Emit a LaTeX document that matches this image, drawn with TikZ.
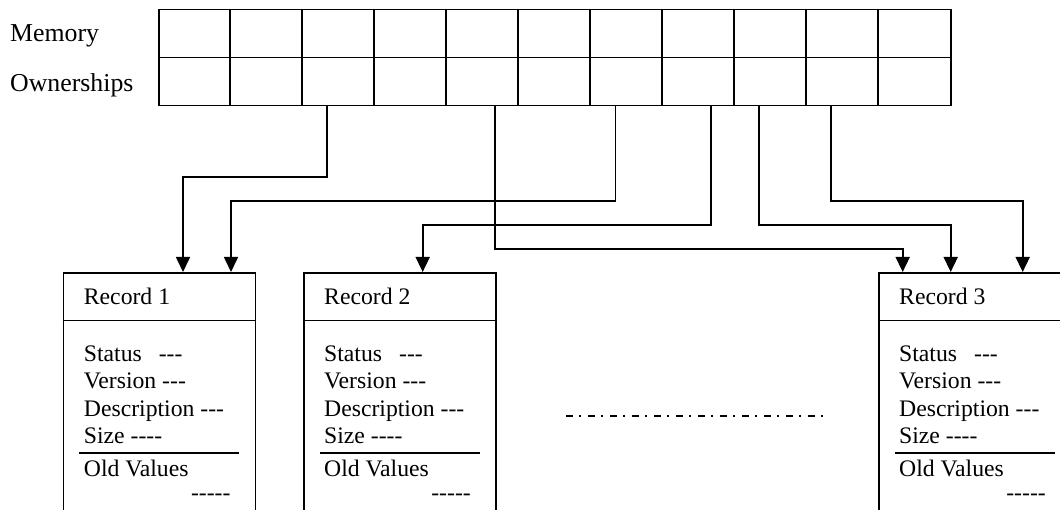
\documentclass[tikz,border=0pt]{standalone}
\usepackage{fontspec}
\setmainfont{Liberation Serif}
\usetikzlibrary{arrows.meta,calc}

% a hyphen that never joins its neighbours into a dash ligature
\newcommand\hy{-\kern0pt}
\newcommand\recfont{\fontsize{23.7}{27}\selectfont}
\newcommand\labfont{\fontsize{25.8}{30}\selectfont}

\tikzset{
  frame/.style={draw, line width=1.6pt, inner sep=0pt},
  conn/.style={line width=1.6pt, -{Triangle[length=15pt,width=14pt]}},
  rtext/.style={anchor=base west, inner sep=0pt, font=\recfont},
  ltext/.style={anchor=base west, inner sep=0pt, font=\labfont},
  dashdot/.style={line width=2pt, dash pattern=on 7pt off 6pt on 2pt off 7pt},
}

% one record: #1 name, #2 left edge, #3 box width, #4 title
\newcommand\recordbox[4]{%
  \node[frame, minimum width=#3, minimum height=250, anchor=north west] (#1) at (#2,272) {};
  \draw[line width=1.6pt] ($(#1.north west)+(0,48.7)$) coordinate (#1h) -- ($(#1.north east)+(0,48.7)$);
  \node[rtext] (#1t) at ($(#1.north west)+(21,33)$) {#4};
  \node[rtext] (#1a) at ($(#1.north west)+(21,89.7)$) {Status\hspace{17pt}\hy\hy\hy};
  \node[rtext] (#1b) at ($(#1.north west)+(21,116.6)$) {Version \hy\hy\hy};
  \node[rtext] (#1c) at ($(#1.north west)+(21,144)$) {Description \hy\hy\hy};
  \node[rtext] (#1d) at ($(#1.north west)+(21,171.3)$) {Size \hy\hy\hy\hy};
  \draw[line width=1.6pt] ($(#1.north west)+(16.5,181)$) coordinate (#1s) -- ++(160,0);
  \node[rtext] (#1e) at ($(#1.north west)+(21,204)$) {Old Values};
  \node[rtext, anchor=base east] (#1f) at ($(#1.north west)+(168,228)$) {\hy\hy\hy\hy\hy};
}

\begin{document}
\begin{tikzpicture}[x=1pt, y=-1pt]
\useasboundingbox (0,0) rectangle (1060,510);
\clip (0,0) rectangle (1060,510);

% memory / ownership table
\node[ltext] (memlab) at (10,41.7) {Memory};
\node[ltext] (ownlab) at (10,91.7) {Ownerships};
\node[frame, minimum width=792, minimum height=96, anchor=north west] (mem) at (158,8.7) {};
\draw[line width=1.6pt] (mem.west) -- (mem.east);
\foreach \k in {1,...,10}
  \draw[line width=1.6pt] ($(mem.north west)+(72*\k,0)$) -- ($(mem.south west)+(72*\k,0)$);

% records (the last one runs on past the right border)
\recordbox{rec1}{62.7}{192}{Record 1}
\recordbox{rec2}{303}{192}{Record 2}
\recordbox{rec3}{878}{260}{Record 3}

% elided records
\coordinate (dd1) at (566,416);
\coordinate (dd2) at (823,416);
\draw[dashdot] (dd1) -- (dd2);

% ownership links
\coordinate (o1) at ($(mem.south west)+(169,0)$);
\coordinate (o4) at ($(mem.south west)+(336.7,0)$);
\coordinate (o2) at ($(mem.south west)+(457.3,0)$);
\coordinate (o3) at ($(mem.south west)+(553,0)$);
\coordinate (o5) at ($(mem.south west)+(601,0)$);
\coordinate (o6) at ($(mem.south west)+(673,0)$);

\coordinate (t1) at ($(rec1.north west)+(120.3,0)$);
\coordinate (t2) at ($(rec1.north west)+(168.3,0)$);
\coordinate (t3) at ($(rec2.north west)+(119.7,0)$);
\coordinate (t4) at ($(rec3.north west)+(24.7,0)$);
\coordinate (t5) at ($(rec3.north west)+(72.7,0)$);
\coordinate (t6) at ($(rec3.north west)+(144.7,0)$);

\coordinate (lv1) at (0,177);
\coordinate (lv2) at (0,201);
\coordinate (lv3) at (0,225);
\coordinate (lv4) at (0,249);

\draw[conn] (o1) -- (o1 |- lv1) -| (t1);
\draw[conn] (o2) -- (o2 |- lv2) -| (t2);
\draw[conn] (o3) -- (o3 |- lv3) -| (t3);
\draw[conn] (o4) -- (o4 |- lv4) -| (t4);
\draw[conn] (o5) -- (o5 |- lv3) -| (t5);
\draw[conn] (o6) -- (o6 |- lv2) -| (t6);
\end{tikzpicture}
\end{document}
